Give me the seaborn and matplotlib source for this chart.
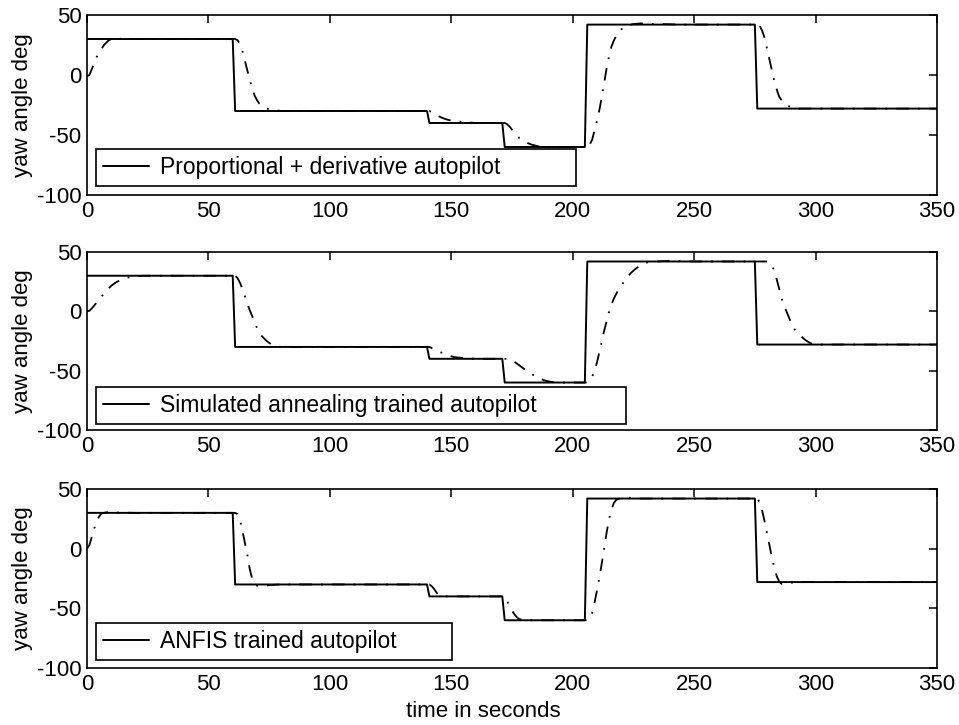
import matplotlib
matplotlib.use("Agg")
import matplotlib.pyplot as plt
import seaborn as sns
import pandas as pd

# ---- data ----
ref_time = [0, 60, 61, 140, 141, 171, 172, 205, 206, 275, 276, 350]
ref_yaw = [30, 30, -30, -30, -40, -40, -60, -60, 42, 42, -28, -28]

pd_time = [0, 1, 2, 3, 4, 5, 6, 7, 8, 9, 10, 12, 15, 61, 62, 63, 64, 65, 66, 67, 68, 69, 70,
           71, 72, 74, 76, 80, 141, 142, 144, 146, 148, 150, 154, 160, 172, 173, 174, 175,
           176, 177, 178, 180, 183, 186, 190, 206, 207, 208, 209, 210, 211, 212, 213, 214,
           215, 216, 217, 218, 219, 220, 222, 225, 228, 235, 245, 276, 277, 278, 279, 280,
           281, 282, 283, 284, 285, 286, 288, 290, 293, 350]
pd_yaw = [-1, 0, 5, 10, 15, 19, 22, 25, 27, 29, 30, 30.5, 30, 30, 29, 26, 20, 12, 4, -4, -11,
          -17, -21, -24, -26, -28, -29, -30, -30, -31, -33.5, -35.5, -37, -38, -39, -40, -40,
          -41, -43, -45.5, -48, -50.5, -52.5, -55.5, -58, -59.5, -60, -60, -58, -54, -46, -38,
          -29, -18, -6, 6, 16, 24, 29, 33, 36, 38, 41, 42.5, 43, 42.5, 42, 42, 41, 37, 31, 22,
          13, 4, -5, -12, -18, -21, -25, -27, -28, -28]

sa_time = [0, 1, 2, 3, 4, 5, 6, 7, 8, 10, 12, 14, 16, 18, 20, 23, 61, 62, 63, 64, 65, 66, 67,
           68, 69, 70, 71, 72, 74, 76, 78, 80, 141, 143, 145, 148, 151, 155, 160, 173, 175,
           176, 178, 180, 182, 184, 186, 188, 190, 193, 206, 207, 208, 209, 210, 211, 212,
           213, 214, 215, 216, 217, 218, 219, 220, 222, 224, 226, 228, 230, 234, 240, 250,
           280, 281, 282, 283, 284, 285, 286, 287, 288, 289, 290, 291, 292, 294, 296, 298,
           300, 350]
sa_yaw = [0, 0.5, 2.5, 5, 7.5, 10, 12.5, 15, 17.5, 21.5, 24.5, 26.5, 28, 29, 29.7, 30, 30, 28,
          24, 19, 13, 7, 1, -4, -9, -14, -18, -21, -25, -28, -29.5, -30, -30, -32, -34, -36.5,
          -38.5, -39.5, -40, -40, -41, -42.5, -45.5, -48.5, -51.5, -54, -56, -58, -59, -60,
          -60, -58, -55, -50, -43, -34, -25, -16, -8, 0, 6, 11, 15, 18.5, 22, 27, 32.5, 36,
          39, 41, 42, 42.5, 42, 42, 41.5, 39, 34, 27, 19, 11, 5, 0, -5, -10, -14, -17, -21,
          -24.5, -27, -28, -28]

anfis_time = [0, 1, 2, 3, 4, 5, 6, 8, 12, 20, 61, 62, 63, 64, 65, 66, 67, 68, 69, 70, 72, 75,
              80, 141, 142, 143, 144, 145, 146, 150, 172, 173, 174, 175, 176, 177, 178, 180,
              206, 207, 208, 209, 210, 211, 212, 213, 214, 215, 216, 217, 218, 220, 222, 226,
              276, 277, 278, 279, 280, 281, 282, 283, 284, 285, 286, 288, 292, 350]
anfis_yaw = [0, 3, 10, 17, 23, 27, 29.5, 30.5, 30.3, 30, 30, 29, 24, 15, 5, -5, -17, -25,
             -29.5, -31, -31.5, -30.5, -30, -30, -31.5, -34, -37, -39, -40, -40, -40, -44, -48,
             -52, -55, -57.5, -59, -60, -60, -58, -54, -45, -35, -24, -12, 1, 14, 25, 33, 38.5,
             41, 42.5, 43, 42, 42, 39, 32, 23, 13, 3, -7, -16, -23, -27.5, -29.5, -29, -28, -28]

legend_labels = ["Proportional + derivative autopilot",
                 "Simulated annealing trained autopilot",
                 "ANFIS trained autopilot"]
x_ticks = [0, 50, 100, 150, 200, 250, 300, 350]
y_ticks = [-100, -50, 0, 50]

# ---- style ----
sns.set_style("white")
plt.rcParams["font.family"] = ["Liberation Sans", "DejaVu Sans"]
plt.rcParams["axes.linewidth"] = 1.2
plt.rcParams["axes.unicode_minus"] = False
plt.rcParams["text.color"] = "black"
plt.rcParams["axes.labelcolor"] = "black"
plt.rcParams["xtick.color"] = "black"
plt.rcParams["ytick.color"] = "black"

fig = plt.figure(figsize=(9.59, 7.25), dpi=100)
left, width = 87 / 959, 850 / 959
boxes = [(left, 1 - 195 / 725, width, 180 / 725),
         (left, 1 - 430 / 725, width, 178 / 725),
         (left, 1 - 668 / 725, width, 179 / 725)]
legend_boxes = [(0.0106, 0.05, 0.565, 0.2),
                (0.0106, 0.034, 0.623, 0.2),
                (0.0106, 0.045, 0.419, 0.2)]

responses = [(pd_time, pd_yaw), (sa_time, sa_yaw), (anfis_time, anfis_yaw)]
ref_df = pd.DataFrame({"time": ref_time, "yaw": ref_yaw})

for i, (box, (rt, ry), lab, lbox) in enumerate(zip(boxes, responses, legend_labels, legend_boxes)):
    ax = fig.add_axes(box)
    sns.lineplot(data=ref_df, x="time", y="yaw", ax=ax, color="black", lw=1.4,
                 estimator=None, sort=False, label=lab)
    resp_df = pd.DataFrame({"time": rt, "yaw": ry})
    sns.lineplot(data=resp_df, x="time", y="yaw", ax=ax, color="black", lw=1.3,
                 estimator=None, sort=False)
    ax.lines[-1].set_linestyle((0, (7, 5, 1, 5)))
    ax.set_xlim(0, 350)
    ax.set_ylim(-100, 50)
    ax.set_xticks(x_ticks)
    ax.set_yticks(y_ticks)
    ax.tick_params(direction="in", length=6, width=1.1, top=True, right=True,
                   labelsize=16, colors="black", pad=4)
    for s in ax.spines.values():
        s.set_color("black")
        s.set_linewidth(1.2)
    ax.set_ylabel("yaw angle deg", fontsize=16, color="black")
    ax.yaxis.set_label_coords(-0.064, 0.5)
    if i == 2:
        ax.set_xlabel("time in seconds", fontsize=16, color="black")
        ax.xaxis.set_label_coords((483 - 87) / 850, -0.185)
    else:
        ax.set_xlabel("")
    handles = [ax.lines[0]]
    leg = ax.legend(handles=handles, labels=[lab], loc="lower left",
                    bbox_to_anchor=lbox, mode="expand", fontsize=16.5,
                    frameon=True, fancybox=False, shadow=False, framealpha=1,
                    borderpad=0.3, handlelength=2.0, handletextpad=0.5,
                    borderaxespad=0)
    leg.get_frame().set_edgecolor("black")
    leg.get_frame().set_linewidth(1.2)
    for t in leg.get_texts():
        t.set_color("black")

fig.savefig("out.png", dpi=100, facecolor="white")
